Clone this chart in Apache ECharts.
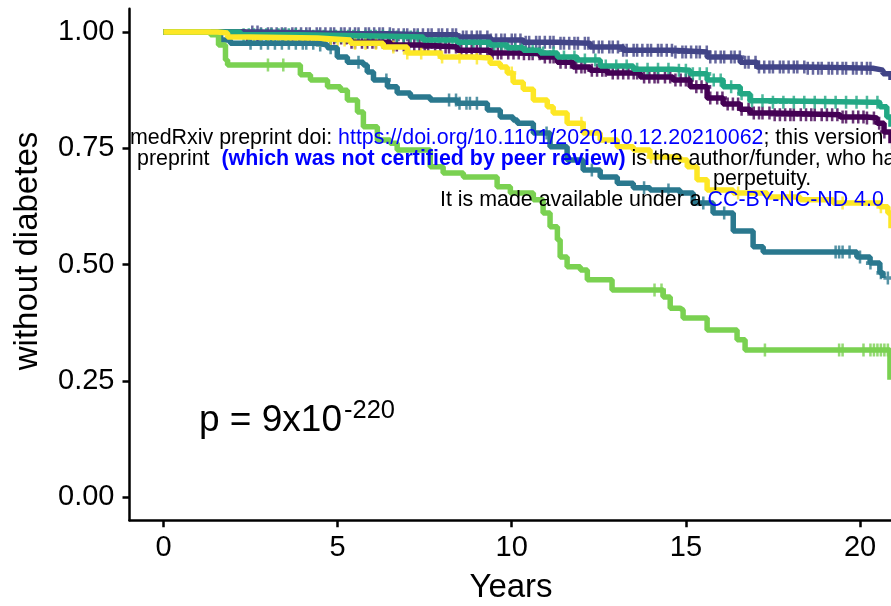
<!DOCTYPE html>
<html>
<head>
<meta charset="utf-8">
<script src="https://cdn.jsdelivr.net/npm/echarts@6/dist/echarts.min.js"></script>
<style>html,body{margin:0;padding:0;background:#fff}#c{width:891px;height:606px}</style>
</head>
<body>
<div id="c"></div>
<script>
// ---- data (years, survival without diabetes) ----
const xTicks = [0, 5, 10, 15, 20];
const yTicks = [0, 0.25, 0.5, 0.75, 1.0];

const purpleTimes = [0,2.07,2.35,3.93,5.37,6.51,7.46,8.44,9.38,10.33,10.82,11.31,11.76,12.25,12.74,13.69,14.63,15.12,15.61,16.07,16.56,16.84,17.50,19.43,20.20,20.49,20.69,20.89];
const purpleSurv  = [1,1.0,0.991,0.987,0.978,0.972,0.968,0.961,0.955,0.953,0.946,0.935,0.925,0.918,0.912,0.903,0.897,0.882,0.858,0.845,0.834,0.826,0.822,0.817,0.815,0.804,0.785,0.761];
const purpleCensor = [2.4,2.5,2.7,2.8,3.0,3.1,3.3,3.45,3.6,3.7,3.9,4.05,4.2,4.3,4.5,4.65,4.8,4.9,5.1,5.25,5.4,5.5,5.7,5.85,6.0,6.1,6.3,6.45,6.6,6.7,6.9,7.05,7.2,7.35,7.5,7.6,7.8,7.95,8.1,8.2,8.4,8.55,8.7,8.85,9.0,9.1,9.3,9.45,9.6,9.7,9.9,10.05,10.2,10.35,10.5,10.6,10.8,10.95,11.1,11.2,11.4,11.55,11.7,11.85,12.0,12.1,12.3,12.45,12.6,12.7,12.9,13.05,13.2,13.35,13.5,13.6,13.8,13.95,14.1,14.2,14.4,14.55,14.7,14.85,15.0,15.1,15.3,15.45,15.6,15.7,15.9,16.05,16.2,16.35,16.5,16.6,16.8,16.95,17.1,17.2,17.4,17.55,17.7,17.85,18.0,18.1,18.3,18.45,18.6,18.7,18.9,19.05,19.2,19.35,19.5,19.6,19.8,19.95,20.1,20.2,20.4,20.55,20.7];

const blueTimes = [0,2.50,2.78,5.37,6.51,7.46,8.44,9.38,10.33,11.31,12.25,13.20,14.63,15.61,16.56,17.04,18.48,20.37,20.66,20.89];
const blueSurv  = [1,1.0,0.996,0.996,0.994,0.994,0.989,0.983,0.978,0.976,0.968,0.961,0.957,0.946,0.935,0.925,0.922,0.918,0.910,0.897];
const blueCensor = [2.55,2.7,2.8,3.0,3.1,3.25,3.4,3.5,3.7,3.8,3.95,4.1,4.2,4.4,4.5,4.65,4.8,4.9,5.1,5.2,5.35,5.5,5.6,5.8,5.9,6.05,6.2,6.3,6.5,6.6,6.75,6.9,7.0,7.2,7.3,7.45,7.6,7.7,7.9,8.0,8.15,8.3,8.4,8.6,8.7,8.85,9.0,9.1,9.3,9.4,9.55,9.7,9.8,10.0,10.1,10.25,10.4,10.5,10.7,10.8,10.95,11.1,11.2,11.4,11.5,11.65,11.8,11.9,12.1,12.2,12.35,12.5,12.6,12.8,12.9,13.05,13.2,13.3,13.5,13.6,13.75,13.9,14.0,14.2,14.3,14.45,14.6,14.7,14.9,15.0,15.15,15.3,15.4,15.6,15.7,15.85,16.0,16.1,16.3,16.4,16.55,16.7,16.8,17.0,17.1,17.25,17.4,17.5,17.7,17.8,17.95,18.1,18.2,18.4,18.5,18.65,18.8,18.9,19.1,19.2,19.35,19.5,19.6,19.8,19.9,20.05,20.2,20.3];

const tealTimes = [0,1.49,1.64,1.92,4.42,4.71,4.99,5.28,5.74,5.85,6.03,6.43,6.71,7.09,7.66,8.44,9.30,9.67,10.04,10.16,10.62,11.10,11.59,12.05,12.54,13.03,13.49,13.97,14.83,15.21,15.78,16.36,16.93,17.22,19.34,19.91,20.29,20.57,20.66];
const tealSurv  = [1,1.0,0.983,0.976,0.972,0.966,0.946,0.935,0.929,0.914,0.897,0.882,0.869,0.860,0.854,0.847,0.832,0.817,0.811,0.804,0.783,0.753,0.725,0.703,0.688,0.675,0.665,0.660,0.654,0.632,0.611,0.572,0.538,0.527,0.527,0.516,0.503,0.482,0.471];
const tealCensor = [2.5,2.8,3.0,3.2,3.4,3.6,3.8,4.0,4.1,4.3,4.5,4.8,5.6,6.4,8.2,8.4,8.5,8.7,8.8,9.0,11.0,12.3,13.8,14.5,15.5,16.1,19.3,19.4,19.5,19.7,20.0,20.3,20.6,20.8];

const greenTimes = [0,1.92,2.21,3.93,6.51,7.46,8.44,9.38,9.87,10.33,10.82,11.31,11.88,12.54,13.49,14.63,15.12,15.61,16.07,16.56,16.84,17.50,20.37,20.57,20.77,20.89];
const greenSurv  = [1,1.0,0.994,0.991,0.989,0.983,0.978,0.972,0.966,0.961,0.955,0.946,0.940,0.927,0.920,0.918,0.910,0.897,0.882,0.867,0.852,0.849,0.849,0.839,0.817,0.796];
const greenCensor = [2.3,2.45,2.6,2.8,2.95,3.1,3.3,3.45,3.6,3.8,3.95,4.1,4.3,4.45,4.6,4.8,4.95,5.1,5.3,5.45,5.6,5.8,5.95,6.1,6.3,6.5,6.7,6.9,7.1,7.3,7.5,7.7,7.9,8.1,8.3,8.5,8.7,8.9,9.1,9.3,9.5,9.7,9.9,10.1,10.3,10.6,10.9,11.2,11.5,11.8,12.1,12.4,12.7,13.0,13.3,13.6,13.9,14.2,14.5,14.8,15.0,15.2,15.4,15.6,15.8,16.0,16.3,16.6,16.9,17.2,17.5,17.8,18.1,18.4,18.7,19.0,19.3,19.6,19.9,20.2,20.5];

const lightTimes = [0,1.20,1.35,1.58,1.78,1.84,3.93,4.22,4.71,5.08,5.28,5.57,5.74,6.14,6.51,6.71,7.66,8.03,8.61,9.58,9.96,10.62,10.90,11.10,11.31,11.39,11.59,11.97,12.17,12.88,14.35,14.55,14.83,14.92,15.61,16.47,16.70,20.86];
const lightSurv  = [1,1.0,0.994,0.972,0.940,0.929,0.908,0.897,0.882,0.875,0.854,0.828,0.796,0.768,0.761,0.746,0.710,0.697,0.688,0.667,0.654,0.639,0.611,0.581,0.553,0.516,0.495,0.488,0.467,0.445,0.430,0.406,0.402,0.385,0.359,0.338,0.316,0.252];
const lightCensor = [3.0,3.44,14.1,14.3,17.27,19.4,19.5,20.1,20.3,20.4,20.5,20.6,20.7,20.8];

const yellowTimes = [0,1.49,1.55,1.84,2.50,4.42,5.37,6.31,7.00,7.95,8.90,9.38,9.67,9.87,10.04,10.33,10.62,11.02,11.19,11.59,12.05,12.54,13.03,13.49,13.97,14.83,15.04,15.32,15.61,16.36,17.33,18.28,19.23,20.57,20.80,20.89];
const yellowSurv  = [1,1.0,0.998,0.989,0.987,0.983,0.976,0.968,0.955,0.946,0.944,0.933,0.925,0.912,0.892,0.877,0.854,0.839,0.826,0.804,0.783,0.768,0.753,0.746,0.731,0.725,0.710,0.682,0.660,0.654,0.645,0.639,0.632,0.624,0.611,0.578];
const yellowCensor = [2.6,2.8,3.0,3.15,3.3,3.5,3.65,3.8,4.0,4.15,4.3,4.5,4.65,4.8,5.0,5.2,5.5,5.8,6.1,6.6,7.0,7.4,8.0,8.5,9.0,10.0,12.0,14.0,16.5,18.0,19.5,20.6];

const strata = [
  {name: 'purple', color: '#440154', t: purpleTimes, s: purpleSurv, c: purpleCensor},
  {name: 'blue',   color: '#414487', t: blueTimes,   s: blueSurv,   c: blueCensor},
  {name: 'teal',   color: '#2A788E', t: tealTimes,   s: tealSurv,   c: tealCensor},
  {name: 'green',  color: '#22A884', t: greenTimes,  s: greenSurv,  c: greenCensor},
  {name: 'light',  color: '#7AD151', t: lightTimes,  s: lightSurv,  c: lightCensor},
  {name: 'yellow', color: '#FDE725', t: yellowTimes, s: yellowSurv, c: yellowCensor}
];

function survAt(times, surv, x) {
  let v = surv[0];
  for (let i = 0; i < times.length; i++) if (times[i] <= x) v = surv[i];
  return v;
}

const FONT = 'Liberation Sans, Arial, sans-serif';
const plus = 'path://M3.6,0H6.4V3.6H10V6.4H6.4V10H3.6V6.4H0V3.6H3.6Z';

const series = [];
strata.forEach(st => {
  series.push({
    type: 'line', name: st.name, step: 'end', showSymbol: false,
    data: st.t.map((x, i) => [x, st.s[i]]),
    lineStyle: {color: st.color, width: 5.5}, itemStyle: {color: st.color},
    clip: true, silent: true
  });
  series.push({
    type: 'scatter', name: st.name + ' censor', symbol: plus, symbolSize: [9, 13],
    data: st.c.map(x => [x, survAt(st.t, st.s, x)]),
    itemStyle: {color: st.color}, clip: true, silent: true
  });
});

const chart = echarts.init(document.getElementById('c'), null, {renderer: 'canvas'});
const rich = {
  k: {fontSize: 21.4, fontFamily: FONT, fill: '#000'},
  b: {fontSize: 21.4, fontFamily: FONT, fill: '#0000FF'},
  bb: {fontSize: 21.4, fontFamily: FONT, fontWeight: 'bold', fill: '#0000FF'}
};
chart.setOption({
  animation: false,
  backgroundColor: '#ffffff',
  grid: {left: 129.5, right: 0, top: 8.75, bottom: 85.75, containLabel: false},
  xAxis: {
    type: 'value', min: -0.976, max: 20.89,
    splitLine: {show: false},
    axisLine: {show: true, onZero: false, lineStyle: {color: '#000', width: 2.5}},
    axisTick: {show: true, length: 7, lineStyle: {color: '#000', width: 2.5}, customValues: xTicks},
    axisLabel: {fontSize: 29, fontFamily: FONT, color: '#000', margin: 13, customValues: xTicks,
      formatter: v => String(v)}
  },
  yAxis: {
    type: 'value', min: -0.05, max: 1.05,
    splitLine: {show: false},
    axisLine: {show: true, onZero: false, lineStyle: {color: '#000', width: 2.5}},
    axisTick: {show: true, length: 7, lineStyle: {color: '#000', width: 2.5}, customValues: yTicks},
    axisLabel: {fontSize: 29, fontFamily: FONT, color: '#000', margin: 15, customValues: yTicks,
      formatter: v => v.toFixed(2)}
  },
  series: series,
  graphic: [
    {type: 'text', x: 28, y: 251, rotation: Math.PI / 2, z: 100,
      style: {text: 'without diabetes', fontSize: 33, fontFamily: FONT, fill: '#000', align: 'center', verticalAlign: 'middle'}},
    {type: 'text', x: 511, y: 588, z: 100,
      style: {text: 'Years', fontSize: 33, fontFamily: FONT, fill: '#000', align: 'center', verticalAlign: 'middle'}},
    {type: 'text', x: 199, y: 421, z: 100,
      style: {text: 'p = 9x10', fontSize: 37, fontFamily: FONT, fill: '#000', align: 'left', verticalAlign: 'middle'}},
    {type: 'text', x: 344, y: 411, z: 100,
      style: {text: '-220', fontSize: 25.5, fontFamily: FONT, fill: '#000', align: 'left', verticalAlign: 'middle'}},
    {type: 'text', x: 130, y: 138, z: 100,
      style: {text: '{k|medRxiv preprint doi: }{b|https://doi.org/10.1101/2020.10.12.20210062}{k|; this version posted October 14, 2020. The copyright holder for this}',
        fontSize: 21.4, fontFamily: FONT, align: 'left', verticalAlign: 'middle', rich: rich}},
    {type: 'text', x: 137, y: 159, z: 100,
      style: {text: '{k|preprint  }{bb|(which was not certified by peer review)}{k| is the author/funder, who has granted medRxiv a license to display the preprint in}',
        fontSize: 21.4, fontFamily: FONT, align: 'left', verticalAlign: 'middle', rich: rich}},
    {type: 'text', x: 713, y: 179, z: 100,
      style: {text: 'perpetuity.', fontSize: 21.4, fontFamily: FONT, fill: '#000', align: 'left', verticalAlign: 'middle'}},
    {type: 'text', x: 440, y: 200, z: 100,
      style: {text: '{k|It is made available under a }{b|CC-BY-NC-ND 4.0}{k| International license .}',
        fontSize: 21.4, fontFamily: FONT, align: 'left', verticalAlign: 'middle', rich: rich}}
  ]
});
</script>
</body>
</html>
